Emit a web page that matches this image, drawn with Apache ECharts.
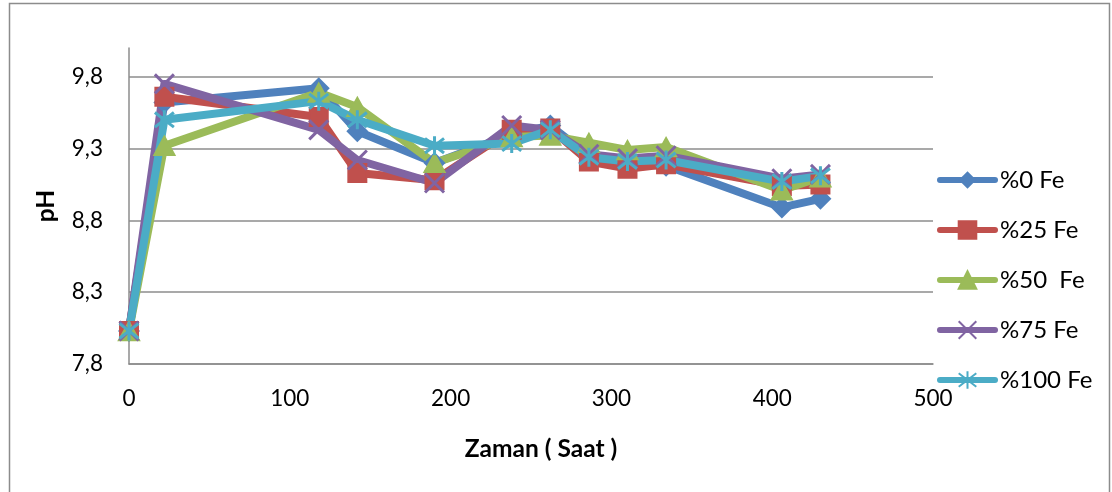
<!DOCTYPE html>
<html>
<head>
<meta charset="utf-8">
<script src="https://cdn.jsdelivr.net/npm/echarts@6/dist/echarts.min.js"></script>
<style>
  html, body { margin: 0; padding: 0; background: #ffffff; }
  #chart { width: 1112px; height: 492px; }
</style>
</head>
<body>
<div id="chart"></div>
<script>
// Sampling times (hours) and pH readings for each Fe ratio
const hours = [0, 22, 118, 142, 190, 238, 262, 286, 310, 334, 406, 430];
const fe0   = [8.03, 9.62, 9.72, 9.42, 9.20, 9.40, 9.46, 9.25, 9.19, 9.18, 8.89, 8.95];
const fe25  = [8.03, 9.66, 9.52, 9.13, 9.08, 9.43, 9.44, 9.21, 9.16, 9.19, 9.04, 9.05];
const fe50  = [8.03, 9.32, 9.69, 9.59, 9.20, 9.38, 9.39, 9.34, 9.29, 9.31, 9.01, 9.10];
const fe75  = [8.03, 9.75, 9.43, 9.22, 9.06, 9.46, 9.43, 9.26, 9.23, 9.25, 9.09, 9.12];
const fe100 = [8.03, 9.50, 9.63, 9.50, 9.32, 9.335, 9.43, 9.24, 9.21, 9.22, 9.07, 9.11];

const seriesNames = ['%0 Fe', '%25 Fe', '%50  Fe', '%75 Fe', '%100 Fe'];
const seriesValues = [fe0, fe25, fe50, fe75, fe100];
const seriesColors = ['#4F81BD', '#C0504D', '#9BBB59', '#8064A2', '#4BACC6'];

const xTitle = 'Zaman ( Saat )';
const yTitle = 'pH';

const FONT = 'Lato, "Open Sans", sans-serif';
const GRID_GRAY = '#8c8c8c';

// marker shapes: diamond, square, triangle, x-cross, asterisk
const markers = [
  { symbol: 'diamond', size: [22, 22], border: 0 },
  { symbol: 'rect', size: [18, 18], border: 2 },
  { symbol: 'triangle', size: [21, 19], border: 1.5 },
  { symbol: 'path://M0,0L10,10M10,0L0,10', size: [19, 19], border: 3 },
  { symbol: 'path://M0,0L10,10M10,0L0,10M5,-1.5L5,11.5', size: [19, 19], border: 3 }
];

function pairs(values) {
  return hours.map((h, i) => [h, values[i]]);
}

const series = seriesNames.map((name, i) => ({
  name: name,
  type: 'line',
  data: pairs(seriesValues[i]),
  symbol: markers[i].symbol,
  symbolSize: markers[i].size,
  showAllSymbol: true,
  color: seriesColors[i],
  lineStyle: { width: 8, color: seriesColors[i], cap: 'round', join: 'round' },
  itemStyle: {
    color: seriesColors[i],
    borderColor: seriesColors[i],
    borderWidth: markers[i].border
  }
}));

const chart = echarts.init(document.getElementById('chart'), null, { renderer: 'canvas' });

chart.setOption({
  backgroundColor: '#ffffff',
  animation: false,
  textStyle: { fontFamily: FONT },
  grid: { left: 129, right: 179, top: 48, bottom: 128, containLabel: false },
  xAxis: {
    type: 'value',
    min: 0,
    max: 500,
    interval: 100,
    name: xTitle,
    nameLocation: 'middle',
    nameGap: 73,
    nameTextStyle: {
      fontFamily: FONT, fontSize: 24.5, fontWeight: 'bold', color: '#000',
      padding: [0, 0, 0, 20]
    },
    axisLine: { show: true, lineStyle: { color: GRID_GRAY, width: 1.5 } },
    axisTick: { show: false },
    axisLabel: { fontFamily: FONT, fontSize: 22.5, color: '#000', margin: 23 },
    splitLine: { show: false }
  },
  yAxis: {
    type: 'value',
    min: 7.8,
    max: 10.0,
    interval: 0.5,
    name: yTitle,
    nameLocation: 'middle',
    nameGap: 70,
    nameRotate: 90,
    nameTextStyle: { fontFamily: FONT, fontSize: 24.5, fontWeight: 'bold', color: '#000' },
    axisLine: { show: true, lineStyle: { color: GRID_GRAY, width: 1.5 } },
    axisTick: { show: false },
    axisLabel: {
      fontFamily: FONT, fontSize: 22.5, color: '#000', margin: 26,
      showMaxLabel: false,
      formatter: v => v.toFixed(1).replace('.', ',')
    },
    splitLine: {
      show: true,
      showMaxLine: false,
      lineStyle: { color: GRID_GRAY, width: 1.5 }
    }
  },
  legend: {
    orient: 'vertical',
    left: 937,
    top: 168,
    padding: 0,
    itemWidth: 55,
    itemHeight: 22,
    itemGap: 26,
    selectedMode: false,
    lineStyle: { width: 6 },
    textStyle: { fontFamily: FONT, fontSize: 24, lineHeight: 22, color: '#000' },
    data: seriesNames
  },
  graphic: [{
    type: 'rect',
    left: 7,
    top: 1,
    shape: { x: 0, y: 0, width: 1100, height: 500 },
    style: { fill: 'none', stroke: GRID_GRAY, lineWidth: 1.5 },
    silent: true,
    z: -1
  }],
  series: series
});
</script>
</body>
</html>
